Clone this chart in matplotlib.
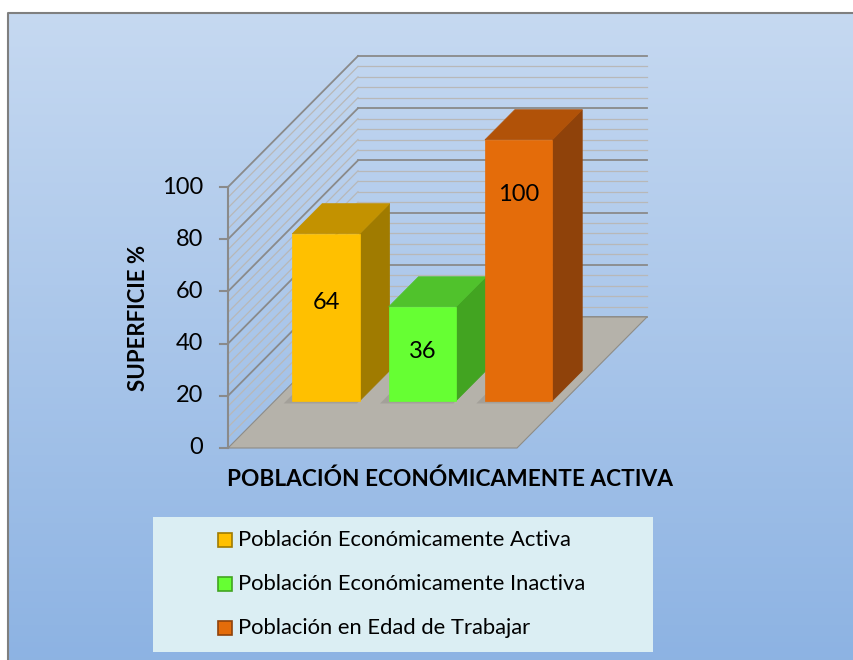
import numpy as np
import matplotlib
matplotlib.use('Agg')
import matplotlib.pyplot as plt
from matplotlib.patches import Polygon, Rectangle

# data
categorias = ['Población Económicamente Activa',
              'Población Económicamente Inactiva',
              'Población en Edad de Trabajar']
valores = [64, 36, 100]
etiquetas = ['64', '36', '100']
yticks = [0, 20, 40, 60, 80, 100]
ytitle = 'SUPERFICIE %'
xtitle = 'POBLACIÓN ECONÓMICAMENTE ACTIVA'

# bar colours: front, top, side
c_front = ['#ffc000', '#66ff33', '#e46c0a']
c_top = ['#c39200', '#50c22c', '#b15208']
c_side = ['#a07b00', '#42a421', '#8f420a']

plt.rcParams['font.family'] = ['Lato', 'DejaVu Sans']

W, H = 854, 660
fig = plt.figure(figsize=(W / 100, H / 100), dpi=100)
ax = fig.add_axes([0, 0, 1, 1])
ax.set_xlim(0, W)
ax.set_ylim(H, 0)
ax.axis('off')

# chart area background (vertical gradient) with border on top/left
grad = np.linspace(0, 1, 256)[:, None]
top = np.array([0.776, 0.851, 0.945])
bot = np.array([0.553, 0.702, 0.890])
img = top[None, None, :] * (1 - grad[..., None]) + bot[None, None, :] * grad[..., None]
ax.imshow(img, extent=[8.5, W, H, 12.5], aspect='auto', zorder=0)
ax.plot([8.5, 8.5, W], [H, 12.5, 12.5], color='#7f7f7f', lw=1.5, zorder=1)

# 3D box geometry (pixels)
x0, x1 = 228, 517          # front edge of floor
y0 = 448                   # front floor level
ddx, ddy = 130, 131        # depth offset (front -> back)
vmax = 100
sv = (448 - 187) / vmax    # px per unit


def P(x, d, v):
    """plane x, depth fraction d, value v -> pixel"""
    return (x + ddx * d, y0 - sv * v - ddy * d)


# floor
floor = [P(x0, 0, 0), P(x1, 0, 0), P(x1, 1, 0), P(x0, 1, 0)]
ax.add_patch(Polygon(floor, closed=True, fc='#b5b2aa', ec='#8e8c86', lw=0.8, zorder=2))

# gridlines on back and left walls
for v in np.arange(0, vmax + 1, 4):
    major = v % 20 == 0
    col = '#8a8a8a' if major else '#b8b8b8'
    lw = 1.3 if major else 0.9
    a, b = P(x0, 1, v), P(x1, 1, v)
    ax.plot([a[0], b[0]], [a[1], b[1]], color=col, lw=lw, zorder=1.5)
    c, d = P(x0, 0, v), P(x0, 1, v)
    if v > 0:
        ax.plot([c[0], d[0]], [c[1], d[1]], color=col, lw=lw, zorder=1.5)

# vertical axis with ticks
ax.plot([x0, x0], [P(x0, 0, 0)[1], P(x0, 0, vmax)[1]], color='#8a8a8a', lw=1.5, zorder=3)
for t in yticks:
    yy = P(x0, 0, t)[1]
    ax.plot([x0 - 8, x0], [yy, yy], color='#8a8a8a', lw=1.5, zorder=3)
    ax.text(x0 - 25, yy, str(t), ha='right', va='center', fontsize=17, color='black')

ax.text(139, 318, ytitle, rotation=90, ha='center', va='center',
        fontsize=16, fontweight='bold', color='black')
ax.text(450, 479, xtitle, ha='center', va='center',
        fontsize=16.3, fontweight='bold', color='black')

# bars
slot = (x1 - x0) / len(valores)
bw = 0.70 * slot
d_front, d_back = 0.36, 0.59
lab_frac = [0.59, 0.52, 0.79]
for i, v in enumerate(valores):
    xl = x0 + slot * i + (slot - bw) / 2 + 3
    xr = xl + bw
    # shadow on floor
    sh = [P(xl - 6, d_front - 0.02, 0), P(xr, d_front - 0.02, 0),
          P(xr, d_back, 0), P(xl - 6, d_back, 0)]
    ax.add_patch(Polygon(sh, closed=True, fc='#98958f', ec='none', alpha=0.6, zorder=3))
    front = [P(xl, d_front, 0), P(xr, d_front, 0), P(xr, d_front, v), P(xl, d_front, v)]
    side = [P(xr, d_front, 0), P(xr, d_back, 0), P(xr, d_back, v), P(xr, d_front, v)]
    topf = [P(xl, d_front, v), P(xr, d_front, v), P(xr, d_back, v), P(xl, d_back, v)]
    ax.add_patch(Polygon(side, closed=True, fc=c_side[i], ec=c_side[i], lw=0.5, zorder=4))
    ax.add_patch(Polygon(topf, closed=True, fc=c_top[i], ec=c_top[i], lw=0.5, zorder=4))
    ax.add_patch(Polygon(front, closed=True, fc=c_front[i], ec=c_front[i], lw=0.5, zorder=5))
    lx, ly = P((xl + xr) / 2, d_front, v * lab_frac[i])
    ax.text(lx, ly, etiquetas[i], ha='center', va='center', fontsize=17,
            color='black', zorder=6)

# legend box
ax.add_patch(Rectangle((153, 517), 500, 135, fc='#dbeef3', ec='none', zorder=2))
for i, nombre in enumerate(categorias):
    yc = 540 + 44 * i
    ax.add_patch(Rectangle((218, yc - 7), 14, 14, fc=c_front[i], ec=c_side[i], lw=1.2, zorder=3))
    ax.text(238, yc, nombre, ha='left', va='center', fontsize=15.8, color='black', zorder=3)

fig.savefig('out.png', dpi=100)
